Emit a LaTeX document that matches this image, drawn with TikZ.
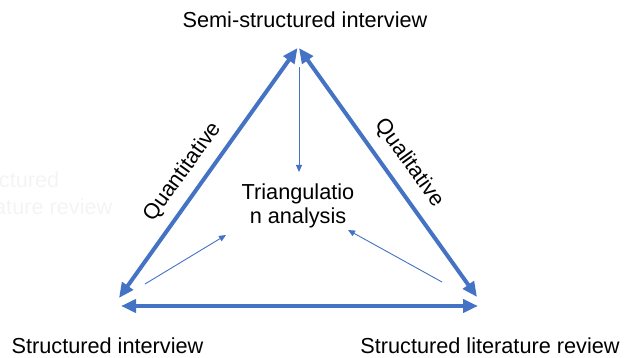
\documentclass[tikz,border=0pt]{standalone}
\usepackage{fontspec}
\setmainfont{Liberation Sans}
\usetikzlibrary{arrows.meta}
\definecolor{edgeblue}{HTML}{4472C4}
\definecolor{ghost}{HTML}{F4F4F4}
\tikzset{
  label text/.style={font=\fontsize{21.7}{24}\selectfont, text=black, inner sep=0pt},
  side/.style={draw=edgeblue, line width=4pt,
    {Triangle[length=15pt,width=13pt]}-{Triangle[length=15pt,width=13pt]}},
  feed/.style={draw=edgeblue, line width=0.9pt, -{Triangle[length=7pt,width=6pt]}},
}
\begin{document}
\begin{tikzpicture}[x=1pt,y=-1pt]
  \useasboundingbox (0,0) rectangle (624,358);
  \clip (0,0) rectangle (624,358);

  % faded caption partly outside the frame (base = last line)
  \node[label text, text=ghost, anchor=base west, align=left] (faded) at (-41,215)
    {Structured\\[3pt]literature review};

  % corners of the triangle
  \coordinate (apexL) at (297.5,48);
  \coordinate (apexR) at (299,48);
  \coordinate (leftC) at (119,298);
  \coordinate (rightC) at (477,297);
  \coordinate (baseL) at (121,306);
  \coordinate (baseR) at (478,306);

  % sides
  \draw[side] (leftC) -- (apexL);
  \draw[side] (apexR) -- (rightC);
  \draw[side] (baseL) -- (baseR);

  % vertex captions
  \node[label text, anchor=base] (semi) at (305,28) {Semi-structured interview};
  \node[label text, anchor=base] (struct) at (107.5,353) {Structured interview};
  \node[label text, anchor=base] (litrev) at (490,353) {Structured literature review};

  % side captions
  \node[label text, rotate=54.3] (quant) at (183,172) {Quantitative};
  \node[label text, rotate=-54.3] (qual) at (409,163) {Qualitative};

  % centre
  \node[label text, align=center] (tri) at (298,206) {Triangulatio\\n analysis};

  % links into the centre
  \coordinate (fromTop) at (299,67);
  \coordinate (toTop) at (299,172);
  \coordinate (fromLeft) at (145,284);
  \coordinate (toLeft) at (226,235);
  \coordinate (fromRight) at (442,282);
  \coordinate (toRight) at (348,230);
  \draw[feed] (fromTop) -- (toTop);
  \draw[feed] (fromLeft) -- (toLeft);
  \draw[feed] (fromRight) -- (toRight);
\end{tikzpicture}
\end{document}
